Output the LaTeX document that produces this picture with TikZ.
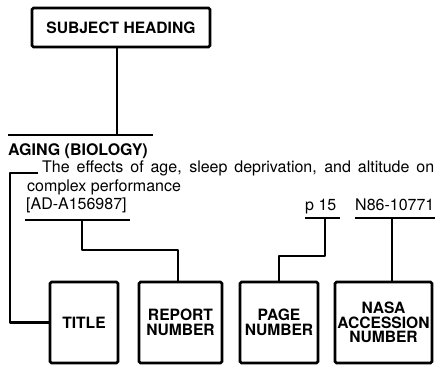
\documentclass[tikz,border=0pt]{standalone}
\usepackage{fontspec}
\setmainfont{TeX Gyre Heros}
\begin{document}
\begin{tikzpicture}[x=1pt,y=-1pt,
  lbox/.style={draw, line width=2.7pt, rounded corners=1.5pt, inner sep=0pt,
    align=center, font=\fontsize{15.6}{14.5}\selectfont\bfseries},
  conn/.style={line width=2.7pt, line join=round},
  uline/.style={line width=2.3pt},
  body/.style={inner sep=0pt, anchor=base west, font=\fontsize{16}{18}\selectfont}]
\useasboundingbox (0,0) rectangle (437,366);

% subject heading box
\node[lbox, minimum width=178pt, minimum height=39pt] (subj) at (121,27.5) {SUBJECT HEADING};

% entry texts
\node[body, font=\fontsize{16}{18}\selectfont\bfseries] (aging) at (8,156) {AGING (BIOLOGY)};
\node[body] (titletext) at (42,173) {\makebox[392pt][s]{The effects of age, sleep deprivation, and altitude on}};
\node[body] (complex) at (27,192) {complex performance};
\node[body] (adnum) at (26,210) {[AD-A156987]};
\node[body] (p15) at (305,211) {p 15};
\node[body] (accnum) at (355,211) {N86-10771};

% bottom boxes
\node[lbox, minimum width=68pt, minimum height=81pt] (title) at (84,322.5) {TITLE};
\node[lbox, minimum width=83pt, minimum height=81pt] (report) at (180.5,322.5) {REPORT\\NUMBER};
\node[lbox, minimum width=78pt, minimum height=81pt] (page) at (279,322.5) {PAGE\\NUMBER};
\node[lbox, minimum width=97pt, minimum height=81pt] (nasa) at (383.5,322.5) {NASA\\ACCESSION\\NUMBER};

% coordinates
\coordinate (hl) at (8,135);
\coordinate (hr) at (153,135);
\coordinate (hv) at (117,135);
\coordinate (b1) at (38,173);
\coordinate (b2) at (10,173);
\coordinate (al) at (25,220);
\coordinate (ar) at (130,220);
\coordinate (av) at (82,220);
\coordinate (pl) at (305,218);
\coordinate (pr) at (340,218);
\coordinate (pv) at (325,218);
\coordinate (nl) at (355,218);
\coordinate (nr) at (435,218);
\coordinate (nv) at (392,218);

% subject heading connector
\draw[conn] (subj.south -| hv) -- (hv);
\draw[uline] (hl) -- (hr);

% title connector
\draw[conn] (b1) -- (b2) |- (title.west);

% report number
\draw[uline] (al) -- (ar);
\draw[conn] (av) -- ++(0,30) -| ([xshift=-2.5pt]report.north);

% page number
\draw[uline] (pl) -- (pr);
\draw[conn] (pv) -- ++(0,38) -| (page.north);

% accession number
\draw[uline] (nl) -- (nr);
\draw[conn] (nv) -- (nv |- nasa.north);
\end{tikzpicture}
\end{document}
